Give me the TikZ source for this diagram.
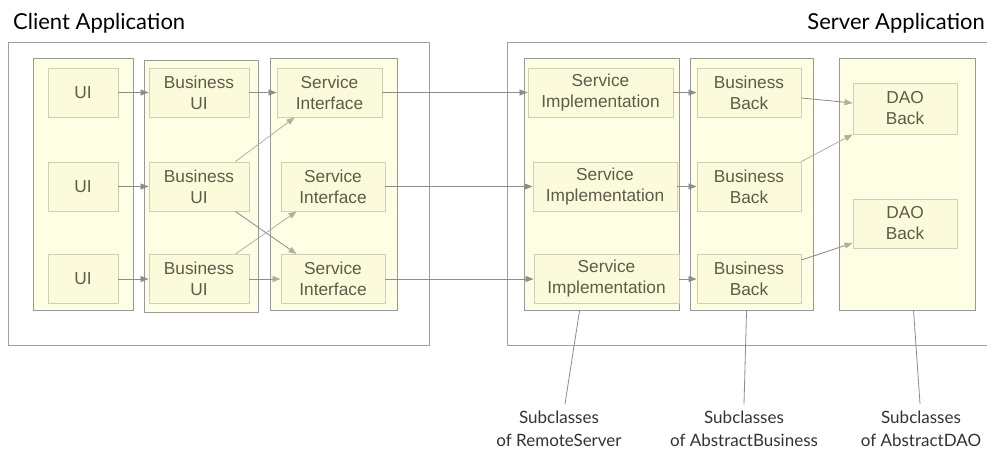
\documentclass[tikz,border=0pt]{standalone}
\usepackage{fontspec}
\setmainfont{Liberation Sans}
\newfontfamily\titlefont{Lato}
\usetikzlibrary{arrows.meta}
\definecolor{colfill}{HTML}{FEFEE5}
\definecolor{boxfill}{HTML}{FBFBDC}
\definecolor{boxborder}{HTML}{CFCFB4}
\definecolor{colborder}{HTML}{999999}
\definecolor{outerborder}{HTML}{A0A0A0}
\definecolor{boxtext}{HTML}{5C5C48}
\definecolor{arrdark}{HTML}{8C8C8C}
\definecolor{arrlight}{HTML}{B0B09C}
\definecolor{lbltext}{HTML}{333333}
\tikzset{
  outerbox/.style={draw=outerborder, line width=0.9pt, inner sep=0pt},
  colbox/.style={draw=colborder, fill=colfill, line width=0.9pt, inner sep=0pt, minimum height=252pt},
  compbox/.style={draw=boxborder, fill=boxfill, line width=0.9pt, inner sep=0pt, minimum height=49pt,
    text=boxtext, align=center, font=\fontsize{17.3}{21}\selectfont},
  darr/.style={draw=arrdark, line width=0.8pt, -{Triangle[length=8pt,width=6pt,fill=arrdark]}},
  larr/.style={draw=arrlight, line width=0.8pt, -{Triangle[length=8pt,width=6pt,fill=arrlight]}},
  mixarr/.style={draw=arrdark, line width=0.8pt, -{Triangle[length=8pt,width=6pt,color=arrlight]}},
  titletext/.style={font=\titlefont\fontsize{22}{26}\selectfont, text=black, inner sep=0pt},
  subtext/.style={font=\titlefont\fontsize{17}{23}\selectfont, text=lbltext, align=center, inner sep=0pt},
  callout/.style={draw=arrdark, line width=0.8pt}
}
\begin{document}
\begin{tikzpicture}[x=1pt,y=-1pt]
\useasboundingbox (0,0) rectangle (987,454);
\fill[white] (0,0) rectangle (987,454);

% titles
\node[titletext, anchor=base west] (clienttitle) at (13,30) {Client Application};
\node[titletext, anchor=base east] (servertitle) at (985,30) {Server Application};

% outer boxes
\node[outerbox, minimum width=421pt, minimum height=303pt] (client) at (218.5,193.5) {};
\draw[draw=outerborder, line width=0.9pt] (995,42) -| (507,345) -- (995,345);
\coordinate (server) at (507,42);

% client columns
\node[colbox, minimum width=100pt] (uicol) at (83,184) {};
\node[colbox, minimum width=114pt] (buicol) at (201,186) {};
\node[colbox, minimum width=127pt] (sicol) at (333.5,184) {};

% server columns
\node[colbox, minimum width=155pt] (implcol) at (601.5,184) {};
\node[colbox, minimum width=123pt] (bbcol) at (751.5,184) {};
\node[colbox, minimum width=136pt] (daocol) at (907,184) {};

% client components
\node[compbox, minimum width=70pt] (ui1) at (83,92.5) {UI};
\node[compbox, minimum width=70pt] (ui2) at (83,186.5) {UI};
\node[compbox, minimum width=70pt] (ui3) at (83,279) {UI};
\node[compbox, minimum width=100pt] (bui1) at (199,92.5) {Business\\UI};
\node[compbox, minimum width=100pt] (bui2) at (199,186.5) {Business\\UI};
\node[compbox, minimum width=100pt] (bui3) at (199,279) {Business\\UI};
\node[compbox, minimum width=105pt] (si1) at (329.5,92.5) {Service\\Interface};
\node[compbox, minimum width=104pt] (si2) at (333,186.5) {Service\\Interface};
\node[compbox, minimum width=104pt] (si3) at (333,279) {Service\\Interface};

% server components
\node[compbox, minimum width=145pt] (impl1) at (600.5,92.5) {Service\\Implementation};
\node[compbox, minimum width=144pt] (impl2) at (605,186.5) {Service\\Implementation};
\node[compbox, minimum width=145pt] (impl3) at (606.5,279) {Service\\Implementation};
\node[compbox, minimum width=104pt] (bb1) at (749,92.5) {Business\\Back};
\node[compbox, minimum width=104pt] (bb2) at (749,186.5) {Business\\Back};
\node[compbox, minimum width=104pt] (bb3) at (749,279) {Business\\Back};
\node[compbox, minimum width=104pt, minimum height=51pt] (dao1) at (905,108.5) {DAO\\Back};
\node[compbox, minimum width=104pt] (dao2) at (905,223.5) {DAO\\Back};

% client arrows
\draw[darr] (ui1.east) -- (bui1.west);
\draw[darr] (ui2.east) -- (bui2.west);
\draw[darr] (ui3.east) -- (bui3.west);
\draw[darr] (bui1.east) -- (si1.west);
\draw[mixarr] (bui3.east) -- (si3.west);
\draw[larr] ([xshift=-14pt]bui2.north east) -- ([xshift=18pt]si1.south west);
\draw[mixarr] ([xshift=-14pt]bui2.south east) -- ([xshift=16pt]si3.north west);
\draw[larr] ([xshift=-14pt]bui3.north east) -- ([xshift=16pt]si2.south west);

% client to server
\draw[darr] (si1.east) -- (impl1.west);
\draw[darr] (si2.east) -- (impl2.west);
\draw[darr] (si3.east) -- (impl3.west);

% server arrows
\draw[darr] (impl1.east) -- (bb1.west);
\draw[darr] (impl2.east) -- (bb2.west);
\draw[darr] (impl3.east) -- (bb3.west);
\draw[mixarr] ([yshift=-5.5pt]bb1.east) -- ([yshift=5.5pt]dao1.west);
\draw[larr] (bb2.north east) -- (dao1.south west);
\draw[mixarr] ([yshift=19pt]bb3.east) -- ([yshift=-19.5pt]dao2.west);

% callouts
\node[subtext, anchor=north] (lbl1) at (559,411) {Subclasses\\of RemoteServer};
\node[subtext, anchor=north] (lbl2) at (744,411) {Subclasses\\of AbstractBusiness};
\node[subtext, anchor=north] (lbl3) at (921,411) {Subclasses\\of AbstractDAO};
\coordinate (c1) at (565,404);
\coordinate (c2) at (744,404);
\coordinate (c3) at (920,404);
\draw[callout] ([xshift=56pt]implcol.south west) -- (c1);
\draw[callout] ([xshift=57pt]bbcol.south west) -- (c2);
\draw[callout] ([xshift=75pt]daocol.south west) -- (c3);
\end{tikzpicture}
\end{document}
